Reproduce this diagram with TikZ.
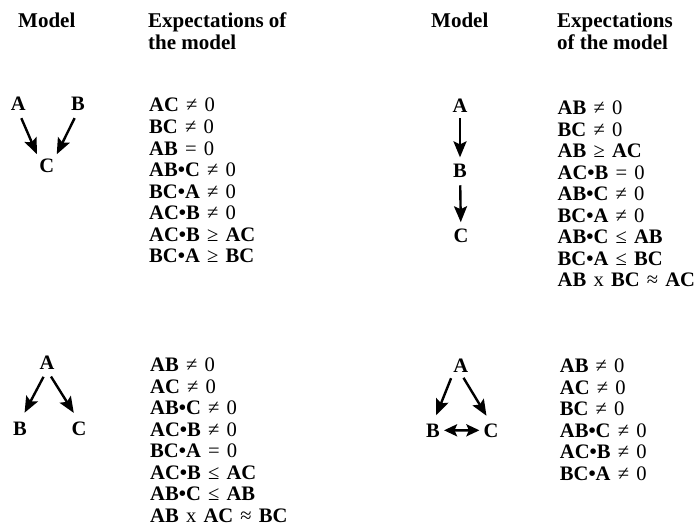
\documentclass[tikz,border=0pt]{standalone}
\usepackage{fontspec}
\setmainfont{Liberation Serif}
\usetikzlibrary{arrows.meta}
\newcommand\rel[1]{\textmd{#1}}
\newcommand\widesp{\spaceskip 7.2pt\relax}
\tikzset{
  x=1pt, y=-1pt,
  lbl/.style={inner sep=0pt, anchor=base, font=\fontsize{20.5}{22}\selectfont\bfseries},
  expr/.style={inner sep=0pt, anchor=base west, font=\fontsize{20.6}{22}\selectfont\bfseries\widesp},
  head/.style={inner sep=0pt, anchor=base west, font=\fontsize{21}{22}\selectfont\bfseries},
  arr/.style={line width=2.4pt, -{Stealth[length=16pt,width=13pt,inset=3pt]}},
  darr/.style={line width=2.4pt, {Stealth[length=13pt,width=12pt,inset=2.5pt]}-{Stealth[length=13pt,width=12pt,inset=2.5pt]}}
}
\begin{document}
\begin{tikzpicture}
\useasboundingbox (0,0) rectangle (696,526);
% headers
\node[head] (hm1) at (18,28) {Model};
\node[head] (he1a) at (148,28) {Expectations of};
\node[head] (he1b) at (148,50) {the model};
\node[head] (hm2) at (431,28) {Model};
\node[head] (he2a) at (557,28) {Expectations};
\node[head] (he2b) at (557,50) {of the model};
% panel 1
\node[lbl] (a1) at (18.3,111) {A};
\node[lbl] (b1) at (78,111) {B};
\node[lbl] (c1) at (46.7,173) {C};
\draw[arr, shorten <=7.6pt, shorten >=5.5pt] (a1.south) -- (c1.north west);
\draw[arr, shorten <=7.6pt, shorten >=5.5pt] (b1.south) -- (c1.north east);
\foreach \t [count=\i] in {AC \rel{≠ 0}, BC \rel{≠ 0}, AB \rel{= 0}, AB•C \rel{≠ 0}, BC•A \rel{≠ 0}, AC•B \rel{≠ 0}, AC•B \rel{≥} AC, BC•A \rel{≥} BC}
  \node[expr] (pa\i) at ({149},{112+(\i-1)*21.57}) {\t};
% panel 2
\node[lbl] (a2) at (460,113) {A};
\node[lbl] (b2) at (460,178) {B};
\node[lbl] (c2) at (461,243) {C};
\draw[arr, shorten <=5pt, shorten >=7pt] (a2) -- (b2);
\draw[arr, shorten <=7pt, shorten >=7pt] (b2) -- (c2);
\foreach \t [count=\i] in {AB \rel{≠ 0}, BC \rel{≠ 0}, AB \rel{≥} AC, AC•B \rel{= 0}, AB•C \rel{≠ 0}, BC•A \rel{≠ 0}, AB•C \rel{≤} AB, BC•A \rel{≤} BC, AB \rel{x} BC \rel{≈} AC}
  \node[expr] (pb\i) at ({557.5},{115+(\i-1)*21.5}) {\t};
% panel 3
\node[lbl] (a3) at (47,370) {A};
\node[lbl] (b3) at (20,435) {B};
\node[lbl] (c3) at (79,435) {C};
\draw[arr, shorten <=7.5pt, shorten >=9.8pt] (a3.south) -- (b3.north);
\draw[arr, shorten <=7.5pt, shorten >=9.8pt] (a3.south) -- (c3.north);
\foreach \t [count=\i] in {AB \rel{≠ 0}, AC \rel{≠ 0}, AB•C \rel{≠ 0}, AC•B \rel{≠ 0}, BC•A \rel{= 0}, AC•B \rel{≤} AC, AB•C \rel{≤} AB, AB \rel{x} AC \rel{≈} BC}
  \node[expr] (pc\i) at ({150},{372+(\i-1)*21.43}) {\t};
% panel 4
\node[lbl] (a4) at (460.7,373) {A};
\node[lbl] (b4) at (433,437) {B};
\node[lbl] (c4) at (491,437) {C};
\draw[arr, shorten <=5.4pt, shorten >=8.7pt] (a4.south west) -- (b4.north);
\draw[arr, shorten <=5.4pt, shorten >=8.7pt] (a4.south) -- (c4.north);
\draw[darr, shorten <=4pt, shorten >=4pt] (b4) -- (c4);
\foreach \t [count=\i] in {AB \rel{≠ 0}, AC \rel{≠ 0}, BC \rel{≠ 0}, AB•C \rel{≠ 0}, AC•B \rel{≠ 0}, BC•A \rel{≠ 0}}
  \node[expr] (pd\i) at ({559.7},{373+(\i-1)*21.4}) {\t};
\end{tikzpicture}
\end{document}
